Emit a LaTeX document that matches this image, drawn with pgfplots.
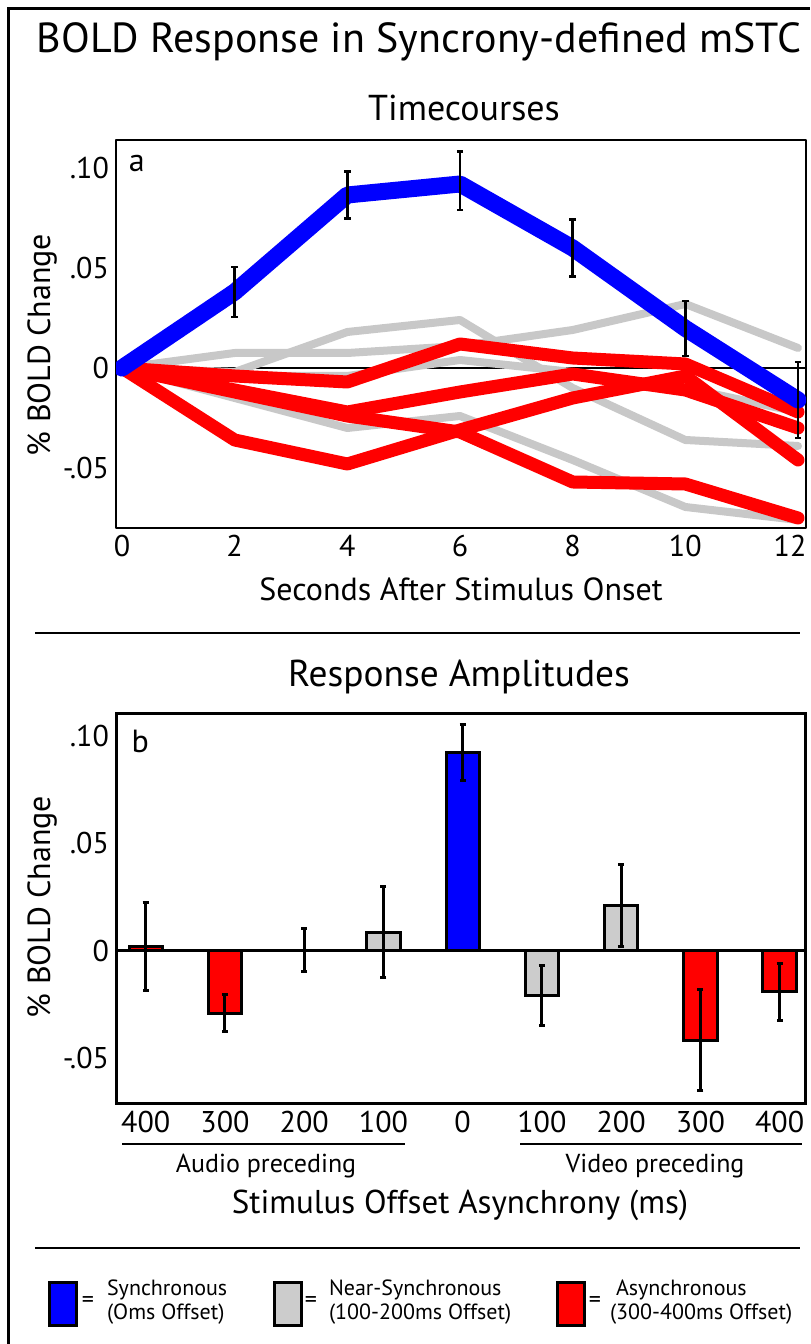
\documentclass[border=0pt]{standalone}
\usepackage{fontspec}
\setmainfont{PT Sans}
\usepackage{pgfplots}
\pgfplotsset{compat=1.18}
\definecolor{myblue}{RGB}{0,0,255}
\definecolor{myred}{RGB}{255,0,0}
\definecolor{mygray}{RGB}{200,200,200}
\definecolor{bargray}{RGB}{204,204,204}
\newcommand{\fs}[1]{\fontsize{#1}{#1}\selectfont}
\begin{document}
\begin{tikzpicture}
\path[use as bounding box] (0pt,0pt) rectangle (405pt,672pt);
\draw[line width=1.5pt] (4pt,0pt) -- (4pt,667.5pt) -- (405pt,667.5pt);
% titles
\node[font=\fs{21}] at (209.5pt,651pt) {BOLD Response in Syncrony-defined mSTC};
\node[font=\fs{18}] at (232pt,618pt) {Timecourses};
\node[font=\fs{18.7}] at (229.5pt,333.5pt) {Response Amplitudes};
% separators
\draw[line width=1pt] (17.5pt,355.5pt) -- (400pt,355.5pt);
\draw[line width=1pt] (17.5pt,48pt) -- (400pt,48pt);
% axis labels
\node[font=\fs{16}] at (230.5pt,377.5pt) {Seconds After Stimulus Onset};
\node[font=\fs{16},rotate=90] at (21pt,499.5pt) {\% BOLD Change};
\node[font=\fs{16},rotate=90] at (21pt,218.5pt) {\% BOLD Change};
\node[font=\fs{16.5}] at (230pt,69.5pt) {Stimulus Offset Asynchrony (ms)};
\node[font=\fs{13}] at (133pt,89pt) {Audio preceding};
\node[font=\fs{13}] at (327.5pt,89pt) {Video preceding};
\draw[line width=1pt] (61pt,100pt) -- (202.5pt,100pt);
\draw[line width=1pt] (260pt,100pt) -- (401pt,100pt);

% ---------- top panel ----------
\begin{axis}[at={(58pt,408pt)}, anchor=south west, scale only axis,
  width=345pt, height=194pt,
  xmin=-0.1065, xmax=12.142, ymin=-0.08, ymax=0.114,
  axis line style={line width=1.25pt},
  major tick length=0pt,
  xtick={0,2,4,6,8,10,12}, xticklabels={0,2,4,6,8,10,\hspace*{-8pt}12},
  ytick={-0.05,0,0.05,0.1}, yticklabels={-.05,0,.05,.10},
  tick label style={font=\fs{15}},
  line join=round, line cap=round]
\addplot[black, line width=1.1pt, line cap=butt] coordinates {(-0.1065,0) (12.142,0)};
% near-synchronous (gray)
\addplot[mygray, line width=4pt] coordinates {(0,0) (2,-0.002) (4,0.018) (6,0.024) (8,-0.010) (10,-0.036) (12,-0.039)};
\addplot[mygray, line width=4pt] coordinates {(0,0) (2,0.0075) (4,0.0075) (6,0.011) (8,0.019) (10,0.032) (12,0.010)};
\addplot[mygray, line width=4pt] coordinates {(0,0) (2,-0.015) (4,-0.030) (6,-0.024) (8,-0.046) (10,-0.0695) (12,-0.076)};
\addplot[mygray, line width=4pt] coordinates {(0,0) (2,-0.004) (4,-0.004) (6,0.004) (8,-0.002) (10,-0.010) (12,-0.022)};
% asynchronous (red)
\addplot[myred, line width=6.5pt] coordinates {(0,0) (2,-0.036) (4,-0.048) (6,-0.031) (8,-0.015) (10,-0.004) (12,-0.046)};
\addplot[myred, line width=6.5pt] coordinates {(0,0) (2,-0.012) (4,-0.024) (6,-0.032) (8,-0.057) (10,-0.058) (12,-0.075)};
\addplot[myred, line width=6.5pt] coordinates {(0,0) (2,-0.004) (4,-0.007) (6,0.012) (8,0.005) (10,0.002) (12,-0.022)};
\addplot[myred, line width=6.5pt] coordinates {(0,0) (2,-0.011) (4,-0.022) (6,-0.012) (8,-0.003) (10,-0.011) (12,-0.030)};
% synchronous (blue)
\addplot[myblue, line width=8.5pt] coordinates {(0,0) (2,0.038) (4,0.0865) (6,0.092) (8,0.060) (10,0.0198) (12,-0.016)};
\addplot[draw=none, error bars/.cd, y dir=both, y explicit,
  error bar style={draw=black, line width=1.2pt, line cap=butt},
  error mark options={draw=black, rotate=90, mark size=1.6pt, line width=1.2pt}]
  coordinates {(2,0.038) +- (0,0.0125) (4,0.0865) +- (0,0.0118) (6,0.0937) +- (0,0.0146) (8,0.060) +- (0,0.0142) (10,0.0198) +- (0,0.0137) (12,-0.016) +- (0,0.019)};
\node[font=\fs{16}, anchor=center] at (rel axis cs:0.03,0.94) {a};
\end{axis}

% ---------- bottom panel ----------
\begin{axis}[at={(58pt,120pt)}, anchor=south west, scale only axis,
  width=345pt, height=195pt,
  xmin=-0.375, xmax=8.333, ymin=-0.0712, ymax=0.1102,
  axis line style={line width=1.5pt},
  major tick length=0pt,
  xtick={0,1,2,3,4,5,6,7,8}, xticklabels={400,300,200,100,0,100,200,300,400},
  ytick={-0.05,0,0.05,0.1}, yticklabels={-.05,0,.05,.10},
  tick label style={font=\fs{15}},
  bar width=0.42, bar shift=0pt]
\addplot[black, line width=1.5pt] coordinates {(-0.375,0) (8.333,0)};
\addplot[ybar, fill=myred, draw=black, line width=1.5pt,
  error bars/.cd, y dir=both, y explicit,
  error bar style={line width=1.5pt, black, solid},
  error mark options={rotate=90, mark size=1.5pt, line width=1.5pt, black}]
  coordinates {(0,0.0019) +- (0,0.0205) (1,-0.029) +- (0,0.0085) (7,-0.0415) +- (0,0.0236) (8,-0.019) +- (0,0.0133)};
\addplot[ybar, fill=bargray, draw=black, line width=1.5pt,
  error bars/.cd, y dir=both, y explicit,
  error bar style={line width=1.5pt, black, solid},
  error mark options={rotate=90, mark size=1.5pt, line width=1.5pt, black}]
  coordinates {(2,0.0004) +- (0,0.0102) (3,0.0088) +- (0,0.0211) (5,-0.0206) +- (0,0.014) (6,0.0211) +- (0,0.019)};
\addplot[ybar, fill=myblue, draw=black, line width=1.5pt,
  error bars/.cd, y dir=both, y explicit,
  error bar style={line width=1.5pt, black, solid},
  error mark options={rotate=90, mark size=1.5pt, line width=1.5pt, black}]
  coordinates {(4,0.0921) +- (0,0.013)};
\node[font=\fs{16}, anchor=center] at (rel axis cs:0.035,0.93) {b};
\end{axis}

% ---------- legend ----------
\draw[fill=myblue, line width=1.5pt] (24.5pt,9pt) rectangle (38pt,30.5pt);
\node[font=\fs{12}] at (44pt,21pt) {=};
\node[font=\fs{11}, anchor=west, align=left] at (50pt,21pt) {Synchronous\\[1pt](Oms Offset)};
\draw[fill=bargray, line width=1.5pt] (137pt,9pt) rectangle (150.5pt,30.5pt);
\node[font=\fs{12}] at (155.5pt,21pt) {=};
\node[font=\fs{11}, anchor=west, align=left] at (161pt,21pt) {Near-Synchronous\\[1pt](100-200ms Offset)};
\draw[fill=myred, line width=1.5pt] (278.5pt,9pt) rectangle (292pt,30.5pt);
\node[font=\fs{12}] at (297.5pt,21pt) {=};
\node[font=\fs{11}, anchor=west, align=left] at (301.5pt,21pt) {\hspace*{3pt}Asynchronous\\[1pt](300-400ms Offset)};
\end{tikzpicture}
\end{document}
